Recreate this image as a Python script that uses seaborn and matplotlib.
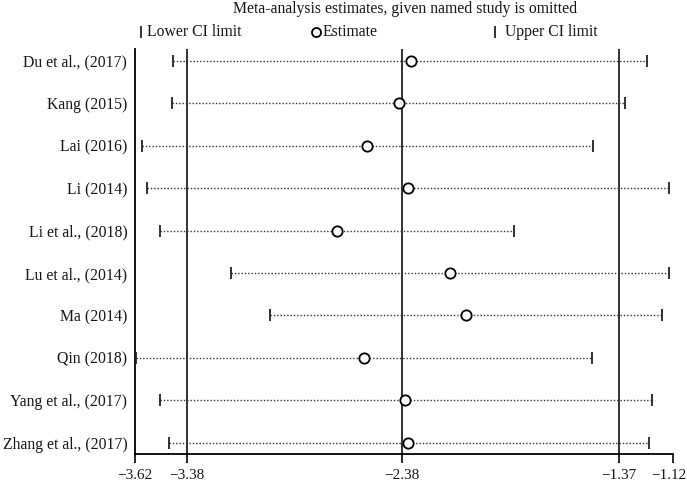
import numpy as np
import pandas as pd
import matplotlib
matplotlib.use("Agg")
import matplotlib.pyplot as plt
import matplotlib.transforms as mtransforms
import seaborn as sns

studies = ["Du et al., (2017)", "Kang (2015)", "Lai (2016)", "Li (2014)",
           "Li et al., (2018)", "Lu et al., (2014)", "Ma (2014)", "Qin (2018)",
           "Yang et al., (2017)", "Zhang et al., (2017)"]
estimate = [-2.338, -2.394, -2.540, -2.349, -2.681, -2.155, -2.081, -2.554, -2.365, -2.349]
lower = [-3.442, -3.450, -3.587, -3.566, -3.504, -3.175, -2.993, -3.615, -3.504, -3.464]
upper = [-1.240, -1.340, -1.492, -1.135, -1.856, -1.135, -1.169, -1.493, -1.217, -1.231]
ref_lines = [-3.38, -2.38, -1.37]
xticks = [-3.62, -3.38, -2.38, -1.37, -1.12]
xticklabels = ["\u22123.62", "\u22123.38", "\u22122.38", "\u22121.37", "\u22121.12"]

sns.set_theme(style="white")
plt.rcParams["font.family"] = ["Liberation Serif", "DejaVu Serif"]
FS = 11.3
TXT = "#151515"

df = pd.DataFrame({"study": studies, "estimate": estimate, "lower": lower, "upper": upper})
df["pos"] = np.arange(len(df))

fig = plt.figure(figsize=(6.87, 4.82), dpi=100)
ax = fig.add_axes([135 / 687, (482 - 454) / 482, (672.6 - 135) / 687, (454 - 49) / 482])

# dotted CI lines
ax.hlines(df["pos"], df["lower"], df["upper"], colors="#333333",
          linestyles=(0, (1, 1.4)), linewidth=1.0, zorder=2)
# reference lines
for v in ref_lines:
    ax.axvline(v, color="#222222", linewidth=1.3, zorder=1)
# CI limit ticks
sns.scatterplot(data=df, x="lower", y="pos", marker="|", s=75, color="#222222",
                linewidth=1.3, ax=ax, zorder=3, legend=False)
sns.scatterplot(data=df, x="upper", y="pos", marker="|", s=75, color="#222222",
                linewidth=1.3, ax=ax, zorder=3, legend=False)
# estimates
sns.scatterplot(data=df, x="estimate", y="pos", marker="o", s=55,
                facecolor="white", edgecolor="black", linewidth=1.3, ax=ax, zorder=4,
                legend=False)

ax.set_xlim(-3.62, -1.12)
ax.set_ylim(len(df) - 1 + 0.27, -0.28)
ax.set_yticks(df["pos"])
ax.set_yticklabels(studies, fontsize=FS)
ax.set_xticks(xticks)
ax.set_xticklabels(xticklabels, fontsize=11)
ax.set_xlabel("")
ax.set_ylabel("")
for s in ["top", "right"]:
    ax.spines[s].set_visible(False)
for s in ["left", "bottom"]:
    ax.spines[s].set_color("black")
    ax.spines[s].set_linewidth(1.3)
ax.tick_params(axis="x", direction="out", length=6.5, width=1.2, color="black",
               bottom=True, pad=4, labelcolor=TXT)
ax.tick_params(axis="y", length=0, pad=5.5, labelcolor=TXT)

# nudge the last tick label so it stays inside the figure
last = ax.get_xticklabels()[-1]
last.set_transform(last.get_transform() +
                   mtransforms.ScaledTranslation(-4 / 100, 0, fig.dpi_scale_trans))

# title and legend
fig.text(405 / 687, 1 - 9 / 482, "Meta-analysis estimates, given named study is omitted",
         ha="center", va="center", fontsize=FS, color=TXT)
ly = 1 - 32 / 482
ax.plot([140.7 / 687], [ly], marker="|", markersize=9, mew=1.3, color="#222222",
        transform=fig.transFigure, clip_on=False)
fig.text(147 / 687, ly, "Lower CI limit", ha="left", va="center", fontsize=FS, color=TXT)
ax.plot([316 / 687], [ly], marker="o", markersize=6.5, mew=1.3, mfc="white", mec="black",
        transform=fig.transFigure, clip_on=False)
fig.text(323 / 687, ly, "Estimate", ha="left", va="center", fontsize=FS, color=TXT)
ax.plot([495 / 687], [ly], marker="|", markersize=9, mew=1.3, color="#222222",
        transform=fig.transFigure, clip_on=False)
fig.text(505 / 687, ly, "Upper CI limit", ha="left", va="center", fontsize=FS, color=TXT)

fig.savefig("out.png", dpi=100)
